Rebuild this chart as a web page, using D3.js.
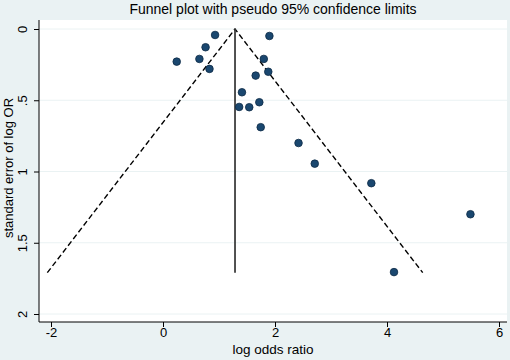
<!DOCTYPE html>
<html><head><meta charset="utf-8">
<script src="https://cdn.jsdelivr.net/npm/d3@7"></script>
<style>body{margin:0;background:#eaf2f3}svg{display:block}</style>
</head><body>
<script>
const logOR = [0.93,1.90,0.76,0.245,0.65,1.80,0.83,1.655,1.88,1.41,1.72,1.36,1.54,1.745,2.42,2.71,3.72,5.49,4.125];
const seLogOR = [0.042,0.049,0.128,0.229,0.21,0.21,0.28,0.327,0.30,0.444,0.514,0.547,0.549,0.689,0.80,0.945,1.082,1.30,1.706];
const pooled = 1.286;
const seMax = 1.71;
const xTicks = [-2,0,2,4,6];
const yTicks = [0,0.5,1,1.5,2];
const yTickLabels = ["0",".5","1","1.5","2"];

const W=510,H=360;
const svg=d3.select("body").append("svg").attr("width",W).attr("height",H);
svg.append("rect").attr("width",W).attr("height",H).attr("fill","#eaf2f3");
const pl={l:39,r:507,t:20,b:322};
svg.append("rect").attr("x",pl.l).attr("y",pl.t).attr("width",pl.r-pl.l).attr("height",pl.b-pl.t).attr("fill","#fff");
const x=d3.scaleLinear().domain([-2,6]).range([51,499]);
const y=d3.scaleLinear().domain([0,2]).range([29,314]);
const font="Liberation Sans, Arial, sans-serif";
// gridlines
svg.append("g").selectAll("line").data(yTicks).join("line")
 .attr("x1",pl.l).attr("x2",pl.r).attr("y1",d=>y(d)).attr("y2",d=>y(d))
 .attr("stroke","#eaf2f3").attr("stroke-width",1);
// funnel
const z=1.96;
const funnel=[[pooled-z*seMax,seMax],[pooled,0],[pooled+z*seMax,seMax]];
svg.append("path").attr("d",d3.line().x(d=>x(d[0])).y(d=>y(d[1]))(funnel))
 .attr("fill","none").attr("stroke","#000").attr("stroke-width",1.4).attr("stroke-dasharray","5.5,3");
svg.append("line").attr("x1",x(pooled)).attr("x2",x(pooled)).attr("y1",y(0)).attr("y2",y(seMax))
 .attr("stroke","#333").attr("stroke-width",1.7);
// points
svg.append("g").selectAll("circle").data(logOR.map((v,i)=>[v,seLogOR[i]])).join("circle")
 .attr("cx",d=>x(d[0])).attr("cy",d=>y(d[1])).attr("r",3.8)
 .attr("fill","#1a476f").attr("stroke","#0d2a45").attr("stroke-width",0.8);
// axes
const ax=svg.append("g").attr("transform",`translate(0,${pl.b})`)
 .call(d3.axisBottom(x).tickValues(xTicks).tickSize(5).tickFormat(d3.format("d")));
ax.select(".domain").attr("d",`M${pl.l},0H${pl.r}`).attr("stroke","#000");
ax.selectAll(".tick line").attr("stroke","#000");
ax.selectAll("text").attr("font-family",font).attr("font-size",13).attr("fill","#000").attr("dy","0.5em").text(d=>d<0?"-"+Math.abs(d):d);
const ay=svg.append("g").attr("transform",`translate(${pl.l},0)`)
 .call(d3.axisLeft(y).tickValues(yTicks).tickSize(5).tickFormat((d,i)=>yTickLabels[i]));
ay.select(".domain").attr("d",`M0,${pl.t}V${pl.b}`).attr("stroke","#000");
ay.selectAll(".tick line").attr("stroke","#000");
ay.selectAll(".tick text").attr("font-family",font).attr("font-size",13).attr("fill","#000")
 .attr("x",null).attr("dy",null).attr("text-anchor","middle")
 .attr("transform","translate(-12,0) rotate(-90)");
// titles
svg.append("text").attr("x",273).attr("y",14).attr("text-anchor","middle").attr("font-family",font).attr("font-size",14).text("Funnel plot with pseudo 95% confidence limits");
svg.append("text").attr("x",273).attr("y",354).attr("text-anchor","middle").attr("font-family",font).attr("font-size",13.5).text("log odds ratio");
svg.append("text").attr("transform","translate(13,168) rotate(-90)").attr("text-anchor","middle").attr("font-family",font).attr("font-size",13).text("standard error of log OR");
</script>
</body></html>
